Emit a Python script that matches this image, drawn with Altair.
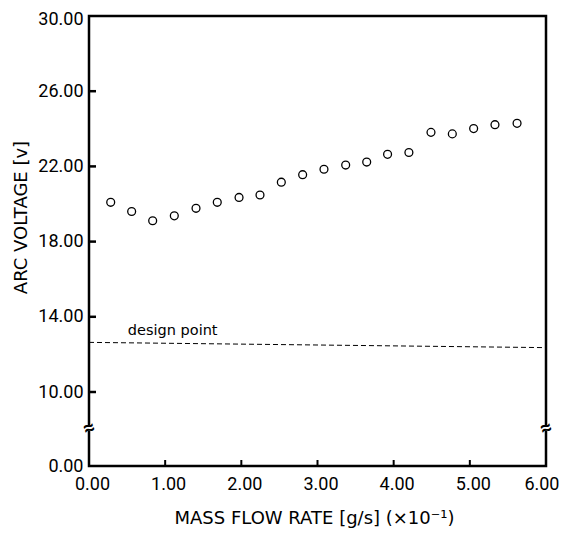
import altair as alt
import pandas as pd

# data
flow = [0.285, 0.56, 0.836, 1.12, 1.405, 1.684, 1.97, 2.245, 2.525, 2.805,
        3.085, 3.37, 3.646, 3.92, 4.20, 4.49, 4.77, 5.05, 5.33, 5.62]
voltage = [20.09, 19.60, 19.11, 19.37, 19.77, 20.09, 20.35, 20.48, 21.16, 21.56,
           21.85, 22.07, 22.23, 22.64, 22.74, 23.81, 23.73, 24.01, 24.22, 24.29]
design_x = [0.0, 6.0]
design_y = [12.64, 12.36]
design_label = ["design point"]
design_label_x = [0.51]
design_label_y = [13.27]
x_tick_values = [0, 1, 2, 3, 4, 5, 6]
x_inner_ticks = [1, 2, 3, 4, 5]
y_tick_values = [0, 10, 14, 18, 22, 26, 30]
y_inner_ticks = [10, 14, 18, 22, 26]
break_x = [0.0, 6.0]
break_y = [5.1, 5.1]

W, H = 457, 450
LFONT = "Roboto"
TFONT = "DejaVu Sans"

xscale = alt.Scale(domain=[0, 6], nice=False, zero=False, padding=0)
yscale = alt.Scale(domain=[0, 10, 30], range=[H, 376, 0], nice=False, zero=False, padding=0)

pts = pd.DataFrame({"x": flow, "y": voltage})
design = pd.DataFrame({"x": design_x, "y": design_y})
dlabel = pd.DataFrame({"x": design_label_x, "y": design_label_y, "t": design_label})
xt = pd.DataFrame({"x": x_inner_ticks})
yt = pd.DataFrame({"y": y_inner_ticks})
brk = pd.DataFrame({"x": break_x, "y": break_y})

xaxis = alt.Axis(values=x_tick_values, format=".2f", ticks=False, tickSize=0, domain=False,
                 grid=False, labelFontSize=18, labelFont=LFONT, labelColor="black",
                 labelPadding=18, labelBaseline="middle", labelFlush=False,
                 labelAlign={"condition": {"test": "datum.value >= 6", "value": "right"},
                             "value": "center"},
                 labelOffset={"condition": {"test": "datum.value >= 6", "value": 13},
                              "value": 3},
                 title="MASS FLOW RATE [g/s] (×10⁻¹)", titleFont=TFONT,
                 titleFontSize=18, titleFontWeight="normal", titleColor="black",
                 titleX=225, titleY=52, titleBaseline="middle", titleAlign="center")
yaxis = alt.Axis(values=y_tick_values, format=".2f", ticks=False, tickSize=0, domain=False,
                 grid=False, labelFontSize=18, labelFont=LFONT, labelColor="black",
                 labelPadding=6, labelFlush=False,
                 labelOffset={"condition": {"test": "datum.value >= 30", "value": 3},
                              "value": 0},
                 title="ARC VOLTAGE [v]", titleFont=TFONT,
                 titleFontSize=18, titleFontWeight="normal", titleColor="black",
                 titleX=-68, titleY=201, titleBaseline="middle", titleAlign="center",
                 titleAngle=270)

points = alt.Chart(pts).mark_point(shape="circle", filled=False, color="black",
                                   size=62, strokeWidth=1.3, opacity=1).encode(
    x=alt.X("x:Q", scale=xscale, axis=xaxis),
    y=alt.Y("y:Q", scale=yscale, axis=yaxis),
)

dline = alt.Chart(design).mark_line(color="black", strokeWidth=1, strokeDash=[5, 3]).encode(
    x=alt.X("x:Q", scale=xscale),
    y=alt.Y("y:Q", scale=yscale),
)

dtext = alt.Chart(dlabel).mark_text(align="left", baseline="middle", font=TFONT,
                                    fontSize=14.5, color="black").encode(
    x=alt.X("x:Q", scale=xscale),
    y=alt.Y("y:Q", scale=yscale),
    text="t:N",
)

xticks = alt.Chart(xt).mark_rule(color="black", strokeWidth=2).encode(
    x=alt.X("x:Q", scale=xscale),
    y=alt.value(H),
    y2=alt.value(H - 6),
)

yticks = alt.Chart(yt).mark_rule(color="black", strokeWidth=2.5).encode(
    y=alt.Y("y:Q", scale=yscale),
    x=alt.value(0),
    x2=alt.value(7),
)

gap = alt.Chart(brk).mark_tick(color="white", thickness=5, size=10, orient="horizontal",
                               opacity=1).encode(
    x=alt.X("x:Q", scale=xscale),
    y=alt.Y("y:Q", scale=yscale),
)

brk_text = alt.Chart(brk).mark_text(text="≈", fontSize=20, fontWeight="bold", font=LFONT,
                                    color="black", angle=340, baseline="middle",
                                    align="center").encode(
    x=alt.X("x:Q", scale=xscale),
    y=alt.Y("y:Q", scale=yscale),
)

chart = alt.layer(points, dline, dtext, xticks, yticks, gap, brk_text).properties(
    width=W, height=H,
    autosize=alt.AutoSizeParams(type="none"),
    padding={"left": 81, "top": 8, "right": 14, "bottom": 62},
    background="white",
).configure_view(stroke="black", strokeWidth=2.5)

chart.save("out.html", embed_options={"renderer": "svg", "actions": False})
